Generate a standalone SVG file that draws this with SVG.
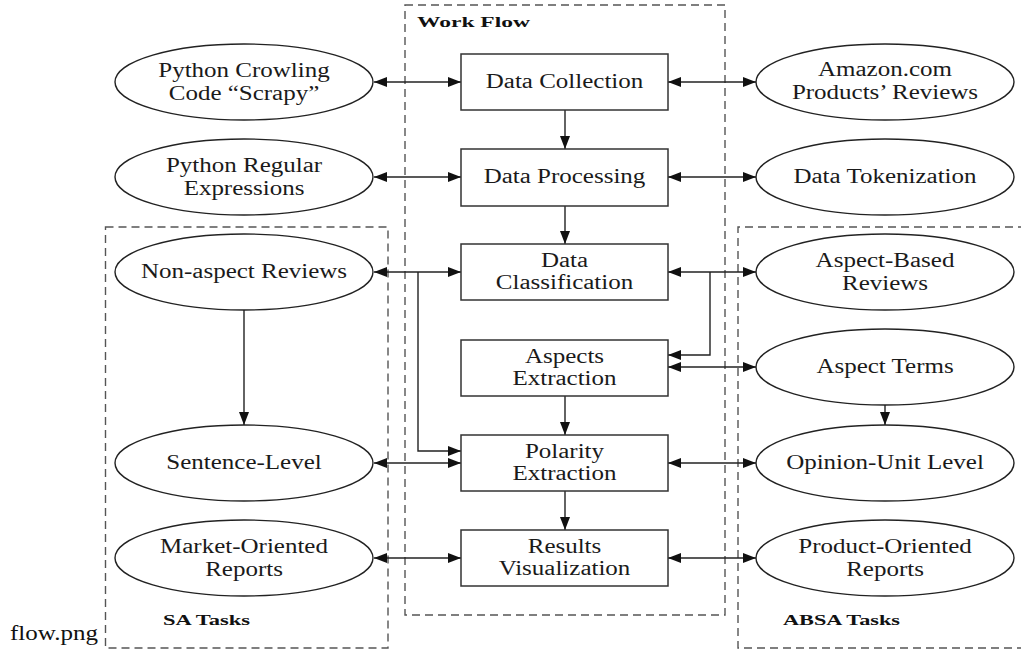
<svg xmlns="http://www.w3.org/2000/svg" width="1021" height="656" viewBox="0 0 1021 656">
<style>
.t{font-family:"Liberation Serif","Times New Roman",serif;font-size:20px;fill:#1a1a1a;text-anchor:middle}
.b{font-family:"Liberation Serif","Times New Roman",serif;font-size:14.5px;font-weight:bold;fill:#111}
.box{fill:#fff;stroke:#333;stroke-width:1.5}
.ell{fill:#fff;stroke:#222;stroke-width:1.4}
.grp{fill:none;stroke:#555;stroke-width:1.4;stroke-dasharray:8 5}
.c{fill:none;stroke:#222;stroke-width:1.4}
.bi{marker-start:url(#ah);marker-end:url(#ah)}
.one{marker-end:url(#ah)}
</style>
<defs>
<marker id="ah" viewBox="0 0 13 10" refX="13" refY="5" markerWidth="13" markerHeight="10" markerUnits="userSpaceOnUse" orient="auto-start-reverse">
<path d="M0,0 L13,5 L0,10 Z" fill="#111"/>
</marker>
</defs>
<rect width="1021" height="656" fill="#fff"/>

<g id="groups">
<rect class="grp" x="405" y="5" width="320" height="610"/>
<rect class="grp" x="105.5" y="227" width="282.5" height="421"/>
<path class="grp" d="M1025,648 H738 V227 H1025"/>
<text class="b" x="417" y="27" textLength="113" lengthAdjust="spacingAndGlyphs">Work Flow</text>
<text class="b" x="163" y="625" textLength="87" lengthAdjust="spacingAndGlyphs">SA Tasks</text>
<text class="b" x="783" y="625" textLength="117" lengthAdjust="spacingAndGlyphs">ABSA Tasks</text>
</g>

<text x="10" y="640" font-family="Liberation Serif, serif" font-size="20" fill="#111" textLength="88" lengthAdjust="spacingAndGlyphs">flow.png</text>

<g id="connectors">
<line class="c one" x1="565" y1="110" x2="565" y2="149"/>
<line class="c one" x1="565" y1="206" x2="565" y2="244"/>
<line class="c one" x1="565" y1="396" x2="565" y2="435"/>
<line class="c one" x1="565" y1="491" x2="565" y2="530"/>

<line class="c bi" x1="374" y1="82" x2="461" y2="82"/>
<line class="c bi" x1="374" y1="177" x2="461" y2="177"/>
<line class="c bi" x1="374" y1="272" x2="461" y2="272"/>
<line class="c bi" x1="374" y1="463" x2="461" y2="463"/>
<line class="c bi" x1="374" y1="558" x2="461" y2="558"/>

<line class="c bi" x1="668" y1="82" x2="756" y2="82"/>
<line class="c bi" x1="668" y1="177" x2="756" y2="177"/>
<line class="c bi" x1="668" y1="272" x2="756" y2="272"/>
<line class="c bi" x1="668" y1="367" x2="756" y2="367"/>
<line class="c bi" x1="668" y1="463" x2="756" y2="463"/>
<line class="c bi" x1="668" y1="558" x2="756" y2="558"/>

<path class="c one" d="M418,272 V451 H461"/>
<path class="c one" d="M710,272 V355 H668"/>

<line class="c one" x1="244" y1="310" x2="244" y2="425"/>
<line class="c one" x1="885" y1="405" x2="885" y2="425"/>
</g>

<g id="n-data-collection">
<rect class="box" x="461" y="54" width="207" height="56"/>
<text class="t" transform="translate(564.5,88) scale(1.25,1)">Data Collection</text>
</g>
<g id="n-data-processing">
<rect class="box" x="461" y="149" width="207" height="57"/>
<text class="t" transform="translate(564.5,183) scale(1.25,1)">Data Processing</text>
</g>
<g id="n-data-classification">
<rect class="box" x="461" y="244" width="207" height="56"/>
<text class="t" transform="translate(564.5,267) scale(1.25,1)">Data</text>
<text class="t" transform="translate(564.5,289) scale(1.25,1)">Classification</text>
</g>
<g id="n-aspects-extraction">
<rect class="box" x="461" y="340" width="207" height="56"/>
<text class="t" transform="translate(564.5,363) scale(1.25,1)">Aspects</text>
<text class="t" transform="translate(564.5,385) scale(1.25,1)">Extraction</text>
</g>
<g id="n-polarity-extraction">
<rect class="box" x="461" y="435" width="207" height="56"/>
<text class="t" transform="translate(564.5,458) scale(1.25,1)">Polarity</text>
<text class="t" transform="translate(564.5,480) scale(1.25,1)">Extraction</text>
</g>
<g id="n-results-visualization">
<rect class="box" x="461" y="530" width="207" height="56"/>
<text class="t" transform="translate(564.5,553) scale(1.25,1)">Results</text>
<text class="t" transform="translate(564.5,575) scale(1.25,1)">Visualization</text>
</g>

<g id="n-python-crowling">
<ellipse class="ell" cx="244" cy="82" rx="129" ry="38"/>
<text class="t" transform="translate(244,77) scale(1.25,1)">Python Crowling</text>
<text class="t" transform="translate(244,100) scale(1.25,1)">Code “Scrapy”</text>
</g>
<g id="n-python-regex">
<ellipse class="ell" cx="244" cy="177" rx="129" ry="38"/>
<text class="t" transform="translate(244,172) scale(1.25,1)">Python Regular</text>
<text class="t" transform="translate(244,195) scale(1.25,1)">Expressions</text>
</g>
<g id="n-non-aspect">
<ellipse class="ell" cx="244" cy="272" rx="129" ry="38"/>
<text class="t" transform="translate(244,278) scale(1.25,1)">Non-aspect Reviews</text>
</g>
<g id="n-sentence-level">
<ellipse class="ell" cx="244" cy="463" rx="129" ry="38"/>
<text class="t" transform="translate(244,469) scale(1.25,1)">Sentence-Level</text>
</g>
<g id="n-market-reports">
<ellipse class="ell" cx="244" cy="558" rx="129" ry="38"/>
<text class="t" transform="translate(244,553) scale(1.25,1)">Market-Oriented</text>
<text class="t" transform="translate(244,576) scale(1.25,1)">Reports</text>
</g>

<g id="n-amazon">
<ellipse class="ell" cx="885" cy="82" rx="129" ry="38"/>
<text class="t" transform="translate(885,76) scale(1.25,1)">Amazon.com</text>
<text class="t" transform="translate(885,99) scale(1.25,1)">Products’ Reviews</text>
</g>
<g id="n-tokenization">
<ellipse class="ell" cx="885" cy="177" rx="129" ry="38"/>
<text class="t" transform="translate(885,183) scale(1.25,1)">Data Tokenization</text>
</g>
<g id="n-aspect-based">
<ellipse class="ell" cx="885" cy="272" rx="129" ry="38"/>
<text class="t" transform="translate(885,267) scale(1.25,1)">Aspect-Based</text>
<text class="t" transform="translate(885,290) scale(1.25,1)">Reviews</text>
</g>
<g id="n-aspect-terms">
<ellipse class="ell" cx="885" cy="367" rx="129" ry="38"/>
<text class="t" transform="translate(885,373) scale(1.25,1)">Aspect Terms</text>
</g>
<g id="n-opinion-unit">
<ellipse class="ell" cx="885" cy="463" rx="129" ry="38"/>
<text class="t" transform="translate(885,469) scale(1.25,1)">Opinion-Unit Level</text>
</g>
<g id="n-product-reports">
<ellipse class="ell" cx="885" cy="558" rx="129" ry="38"/>
<text class="t" transform="translate(885,553) scale(1.25,1)">Product-Oriented</text>
<text class="t" transform="translate(885,576) scale(1.25,1)">Reports</text>
</g>
</svg>
